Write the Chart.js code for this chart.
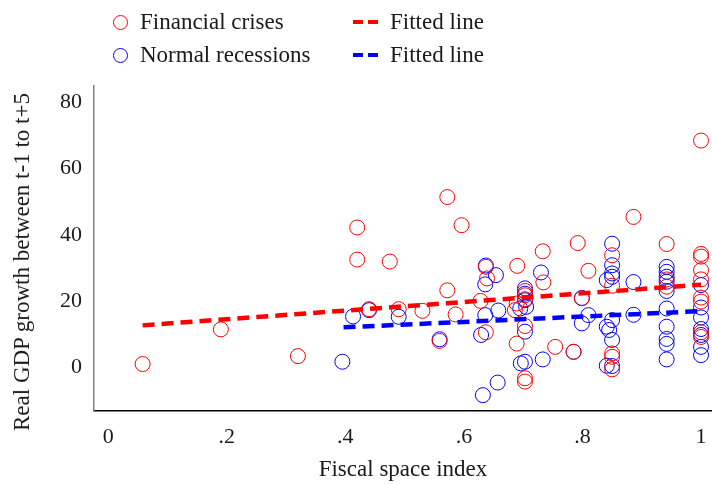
<!DOCTYPE html>
<html>
<head>
<meta charset="utf-8">
<script src="https://cdn.jsdelivr.net/npm/chart.js@4.4.1/dist/chart.umd.min.js"></script>
<style>
  html, body { margin: 0; padding: 0; background: #fff; }
  #wrap { position: relative; width: 712px; height: 485px; }
  .leg { position: absolute; display: flex; align-items: center; height: 28px; font-family: "Liberation Serif", serif; font-size: 23px; color: #1a1a1a; white-space: nowrap; }
  .circle { width: 15px; height: 15px; border: 1px solid; border-radius: 50%; box-sizing: border-box; margin-right: 12px; }
  .dash { width: 25px; height: 4px; margin-right: 12px; }
  #tituloY { position: absolute; left: 22px; top: 262px; transform: translate(-50%, -50%) rotate(-90deg);
    font-family: "Liberation Serif", serif; font-size: 23px; color: #1a1a1a; white-space: nowrap; }
</style>
</head>
<body>
<div id="wrap">
  <canvas id="grafico" width="712" height="485"></canvas>
  <div class="leg" style="left:113px; top:8px;"><span class="circle" style="border-color:#f00"></span>Financial crises</div>
  <div class="leg" style="left:113px; top:41px;"><span class="circle" style="border-color:#00f"></span>Normal recessions</div>
  <div class="leg" style="left:353px; top:8px;"><span class="dash" style="background:linear-gradient(to right,#f00 0 10px,transparent 10px 15px,#f00 15px 25px)"></span>Fitted line</div>
  <div class="leg" style="left:353px; top:41px;"><span class="dash" style="background:linear-gradient(to right,#00f 0 10px,transparent 10px 15px,#00f 15px 25px)"></span>Fitted line</div>
  <div id="tituloY">Real GDP growth between t-1 to t+5</div>
</div>
<script>
// Dados
const crisesX = [0.058, 0.19, 0.32, 0.42, 0.42, 0.475, 0.44, 0.49, 0.53, 0.572, 0.586, 0.572, 0.596, 0.559,
  0.637, 0.639, 0.628, 0.637, 0.69, 0.689, 0.686, 0.703, 0.703, 0.703, 0.703, 0.689, 0.703, 0.703,
  0.754, 0.785, 0.734, 0.733, 0.792, 0.81, 0.799, 0.85, 0.85, 0.85, 0.85, 0.85, 0.886,
  0.942, 0.942, 0.942, 1, 1, 1, 1, 1, 1, 1, 1, 1];
const crisesY = [0.9, 11.4, 3.3, 42.2, 32.5, 31.9, 17.5, 17.5, 17.0, 23.2, 15.9, 51.4, 42.9, 7.9,
  30.3, 26.8, 20.0, 10.5, 30.6, 19.2, 17.2, 23.0, 21.7, 20.5, 12.4, 7.1, -3.4, -4.4,
  6.1, 4.6, 25.6, 35.0, 37.5, 29.1, 20.8, 33.8, 24.6, 4.1, 3.1, -0.7, 45.4,
  37.2, 26.5, 24.3, 68.5, 34.2, 33.4, 29.3, 26.5, 21.0, 19.8, 10.5, 9.1];

const recessionsX = [0.395, 0.413, 0.44, 0.49, 0.559, 0.637, 0.654, 0.636, 0.658, 0.636, 0.629, 0.657, 0.632,
  0.695, 0.703, 0.703, 0.703, 0.705, 0.703, 0.696, 0.703, 0.733, 0.785, 0.73, 0.799, 0.81, 0.799,
  0.85, 0.85, 0.85, 0.85, 0.841, 0.85, 0.841, 0.845, 0.85, 0.841, 0.85, 0.886, 0.886,
  0.942, 0.942, 0.942, 0.942, 0.942, 0.942, 0.942, 0.942, 0.942, 0.942,
  1, 1, 1, 1, 1, 1, 1];
const recessionsY = [1.6, 15.3, 17.2, 15.2, 8.4, 30.7, 27.8, 25.0, 17.1, 15.7, 9.7, -4.7, -8.5,
  17.7, 23.8, 22.2, 20.2, 18.2, 10.7, 1.1, 1.6, 2.3, 4.6, 28.6, 20.9, 15.7, 13.2,
  37.3, 30.8, 28.3, 27.3, 26.3, 14.2, 12.2, 11.2, 8.2, 0.4, 0.3, 25.7, 15.8,
  30.3, 28.8, 27.3, 25.8, 23.0, 17.7, 12.2, 8.5, 7.0, 2.3,
  24.8, 18.0, 15.0, 11.5, 9.7, 6.1, 3.6];

// Retas ajustadas (extremos)
const fitCrisesX = [0.058, 1];
const fitCrisesY = [12.6, 24.9];
const fitRecessionsX = [0.397, 1];
const fitRecessionsY = [12.0, 16.9];

const xTicks = [0, 0.2, 0.4, 0.6, 0.8, 1];
const xTickLabels = ['0', '.2', '.4', '.6', '.8', '1'];
const yTicks = [0, 20, 40, 60, 80];

const pontos = (xs, ys) => xs.map((x, i) => ({ x, y: ys[i] }));
const fonte = { family: '"Liberation Serif", serif', size: 23 };
const fonteTicks = { family: '"Liberation Serif", serif', size: 22 };
const corTexto = '#1a1a1a';

new Chart(document.getElementById('grafico'), {
  type: 'scatter',
  data: {
    datasets: [
      { label: 'Fitted line', data: pontos(fitCrisesX, fitCrisesY), showLine: true, pointRadius: 0,
        borderColor: '#f00', borderWidth: 4.5, borderDash: [12, 7], order: 0 },
      { label: 'Fitted line', data: pontos(fitRecessionsX, fitRecessionsY), showLine: true, pointRadius: 0,
        borderColor: '#00f', borderWidth: 4.5, borderDash: [12, 7], order: 0 },
      { label: 'Financial crises', data: pontos(crisesX, crisesY), pointRadius: 7.5, borderWidth: 1,
        borderColor: '#f00', backgroundColor: 'rgba(0,0,0,0)', order: 1 },
      { label: 'Normal recessions', data: pontos(recessionsX, recessionsY), pointRadius: 7.5, borderWidth: 1,
        borderColor: '#00f', backgroundColor: 'rgba(0,0,0,0)', order: 1 }
    ]
  },
  options: {
    responsive: false,
    animation: false,
    layout: { autoPadding: false, padding: { top: 86, right: 0, left: 0, bottom: 0 } },
    plugins: { legend: { display: false }, tooltip: { enabled: false } },
    scales: {
      x: {
        type: 'linear', min: -0.024, max: 1.0185,
        grid: { display: false, drawTicks: false },
        border: { color: '#000', width: 1.5 },
        afterBuildTicks: s => { s.ticks = xTicks.map(v => ({ value: v })); },
        afterFit: s => { s.height = 74; s.paddingLeft = 0; s.paddingRight = 0; },
        ticks: { font: fonteTicks, color: corTexto, padding: 13, maxRotation: 0, autoSkip: false,
          callback: (v, i) => xTickLabels[i] },
        title: { display: true, text: 'Fiscal space index', font: fonte, color: corTexto, padding: { top: 0, bottom: 1 } }
      },
      y: {
        type: 'linear', min: -13.3, max: 85,
        grid: { display: false, drawTicks: false },
        border: { color: '#808080', width: 1.5 },
        afterBuildTicks: s => { s.ticks = yTicks.map(v => ({ value: v })); },
        afterFit: s => { s.width = 94; s.paddingTop = 0; s.paddingBottom = 0; },
        ticks: { font: fonteTicks, color: corTexto, padding: 12 },
        title: { display: false }
      }
    }
  }
});
</script>
</body>
</html>
